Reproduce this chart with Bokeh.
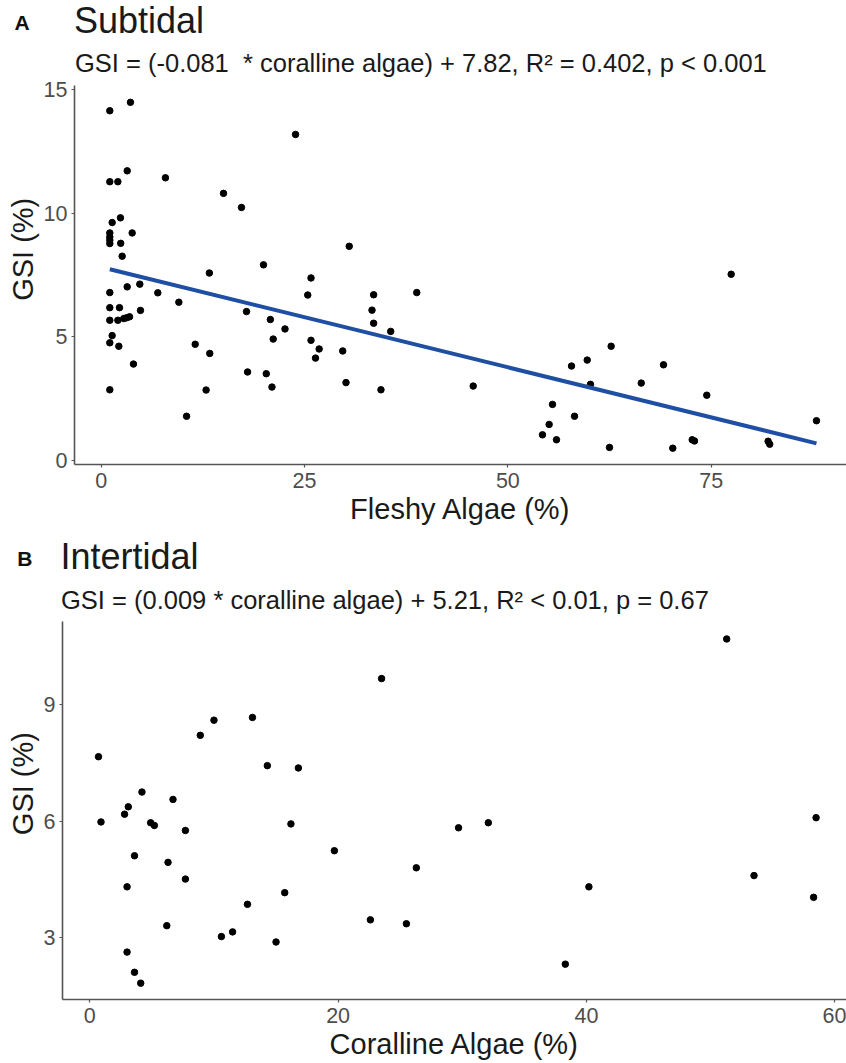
import math
from bokeh.plotting import figure
from bokeh.layouts import column, row
from bokeh.models import FixedTicker
from bokeh.core.properties import value
from bokeh.embed import file_html
from bokeh.resources import INLINE

# Subtidal sites: fleshy algae cover (%) vs gonadosomatic index (%)
sub_fleshy = [1.06, 3.60, 23.9, 3.20, 1.06, 2.05, 7.90, 15.04, 17.25, 2.37, 1.35, 1.06, 3.81,
              1.06, 1.06, 1.06, 2.40, 2.58, 30.5, 19.96, 13.3, 25.8, 3.20, 4.75, 1.06, 6.96,
              25.4, 33.5, 38.8, 9.55, 1.06, 2.25, 4.83, 17.87, 33.3, 1.06, 2.05, 2.78, 3.12,
              3.49, 20.8, 33.5, 22.6, 35.6, 1.35, 1.06, 2.17, 21.15, 25.8, 11.56, 26.8, 13.35,
              26.35, 29.7, 3.97, 18.0, 20.3, 30.1, 21.0, 1.06, 12.9, 34.4, 10.5,
              77.46, 62.7, 59.76, 57.83, 69.14, 45.74, 60.16, 66.4, 74.46, 55.49, 58.2, 55.08,
              54.26, 55.98, 62.5, 70.28, 72.67, 72.95, 82.0, 82.2, 87.95]
sub_gsi = [14.14, 14.48, 13.18, 11.71, 11.27, 11.27, 11.43, 10.8, 10.23, 9.81, 9.62, 9.2, 9.2,
           9.04, 8.91, 8.77, 8.78, 8.26, 8.66, 7.91, 7.58, 7.38, 7.02, 7.13, 6.79, 6.78,
           6.69, 6.7, 6.79, 6.4, 6.18, 6.18, 6.07, 6.02, 6.08, 5.67, 5.67, 5.74, 5.77,
           5.81, 5.7, 5.55, 5.32, 5.22, 5.05, 4.76, 4.62, 4.91, 4.86, 4.7, 4.51, 4.33,
           4.14, 4.43, 3.9, 3.58, 3.51, 3.15, 2.97, 2.86, 2.85, 2.86, 1.79,
           7.53, 4.62, 4.06, 3.82, 3.87, 3.01, 3.08, 3.13, 2.64, 2.27, 1.79, 1.46,
           1.04, 0.84, 0.53, 0.5, 0.84, 0.79, 0.78, 0.66, 1.61]

# Intertidal sites: coralline algae cover (%) vs gonadosomatic index (%)
inter_coralline = [23.5, 10.0, 13.1, 8.9, 0.7, 14.3, 16.8, 4.2, 6.7, 3.1, 2.8, 0.9, 4.9, 5.2,
                   16.2, 7.7, 29.7, 19.7, 3.6, 6.3, 26.3, 7.7, 3.0, 15.7, 12.7, 22.6, 25.5,
                   6.2, 11.5, 10.6, 15.0, 3.0, 3.6, 4.1, 51.3, 32.1, 58.5, 53.5, 40.2, 58.3, 38.3]
inter_gsi = [9.67, 8.60, 8.67, 8.21, 7.66, 7.43, 7.37, 6.75, 6.56, 6.37, 6.18, 5.98, 5.96, 5.89,
             5.93, 5.76, 5.83, 5.24, 5.11, 4.94, 4.80, 4.51, 4.31, 4.16, 3.86, 3.46, 3.36,
             3.31, 3.15, 3.03, 2.89, 2.63, 2.11, 1.83, 10.69, 5.96, 6.09, 4.60, 4.31, 4.04, 2.32]

# Fitted linear model for the subtidal panel
sub_slope = -0.081
sub_intercept = 7.82

sub_xticks = [0, 25, 50, 75]
sub_yticks = [0, 5, 10, 15]
inter_xticks = [0, 20, 40, 60]
inter_yticks = [3, 6, 9]

sub_title = "Subtidal"
sub_eq = "GSI = (-0.081\u00a0 * coralline algae) + 7.82, R\u00b2 = 0.402, p < 0.001"
inter_title = "Intertidal"
inter_eq = "GSI = (0.009 * coralline algae) + 5.21, R\u00b2 < 0.01, p = 0.67"

FONT = "Liberation Sans"
AXIS_GREY = "#555555"
TICK_GREY = "#4D4D4D"
TEXT = "#1A1A1A"
YLAB_W = 40


def blank(width, height):
    """A bare canvas in pixel coordinates, used for headings and side titles."""
    p = figure(width=width, height=height, x_range=(0, width), y_range=(0, height),
               output_backend="svg", toolbar_location=None,
               x_axis_type=None, y_axis_type=None,
               min_border=0, min_border_left=0, min_border_right=0,
               min_border_top=0, min_border_bottom=0)
    p.outline_line_color = None
    p.grid.visible = False
    return p


def heading(height, tag, tag_x, tag_y, title, title_x, title_y, subtitle, sub_x, sub_y):
    h = blank(846, height)
    h.text(x=[tag_x], y=[tag_y], text=[tag], text_font=value(FONT), text_font_size=value("21px"),
           text_font_style="bold", text_color="#111111", text_baseline="alphabetic")
    h.text(x=[title_x], y=[title_y], text=[title], text_font=value(FONT),
           text_font_size=value("36px"), text_color=TEXT, text_baseline="alphabetic")
    h.text(x=[sub_x], y=[sub_y], text=[subtitle], text_font=value(FONT),
           text_font_size=value("25.5px"), text_color=TEXT, text_baseline="alphabetic")
    return h


def side_title(height, center_y):
    s = blank(YLAB_W, height)
    s.text(x=[22], y=[center_y], text=["GSI (%)"], text_font=value(FONT),
           text_font_size=value("29px"), text_color=TEXT, angle=math.pi / 2,
           text_align="center", text_baseline="middle")
    return s


def panel(width, height, x_range, y_range, xticks, yticks, xlabel,
          border_left, border_top, border_bottom):
    p = figure(width=width, height=height, x_range=x_range, y_range=y_range,
               output_backend="svg", toolbar_location=None,
               min_border_left=border_left, min_border_right=0,
               min_border_top=border_top, min_border_bottom=border_bottom)
    p.outline_line_color = None
    p.grid.visible = False
    p.xaxis.ticker = FixedTicker(ticks=xticks)
    p.yaxis.ticker = FixedTicker(ticks=yticks)
    p.xaxis.axis_label = xlabel
    for ax in (p.xaxis, p.yaxis):
        ax.axis_line_color = AXIS_GREY
        ax.axis_line_width = 1.6
        ax.major_tick_line_color = AXIS_GREY
        ax.major_tick_line_width = 1.2
        ax.major_tick_out = 3
        ax.major_tick_in = 0
        ax.minor_tick_line_color = None
        ax.major_label_text_font = FONT
        ax.major_label_text_font_size = "21.5px"
        ax.major_label_text_color = TICK_GREY
        ax.axis_label_text_font = FONT
        ax.axis_label_text_font_size = "29px"
        ax.axis_label_text_font_style = "normal"
        ax.axis_label_text_color = TEXT
    p.xaxis.major_label_standoff = 5
    p.xaxis.axis_label_standoff = 2
    p.yaxis.major_label_standoff = 4
    return p


# Panel A: subtidal
head_a = heading(77, "A", 14, 55.4, sub_title, 73.5, 56.6, sub_eq, 74.5, 14.6)
pa = panel(846 - YLAB_W, 457, (-3.28, 91.64), (-0.16, 15.16), sub_xticks, sub_yticks,
           "Fleshy Algae (%)", 74 - YLAB_W, 8, 70)
pa.scatter(sub_fleshy, sub_gsi, size=6.5, color="black")
fit_x = [min(sub_fleshy), max(sub_fleshy)]
fit_y = [sub_intercept + sub_slope * v for v in fit_x]
pa.line(fit_x, fit_y, line_color="#1F4FA3", line_width=4)
ylab_a = side_title(457, 259.5)

# Panel B: intertidal
head_b = heading(86, "B", 16.8, 62.3, inter_title, 60, 64.3, inter_eq, 60.5, 20.6)
pb = panel(846 - YLAB_W, 443, (-2.2, 60.95), (1.41, 11.14), inter_xticks, inter_yticks,
           "Coralline Algae (%)", 62 - YLAB_W, 1, 64)
pb.scatter(inter_coralline, inter_gsi, size=6.5, color="black")
ylab_b = side_title(443, 253)

layout = column(head_a, row(ylab_a, pa, spacing=0), head_b, row(ylab_b, pb, spacing=0), spacing=0)
open("out.html", "w").write(file_html(layout, INLINE))
